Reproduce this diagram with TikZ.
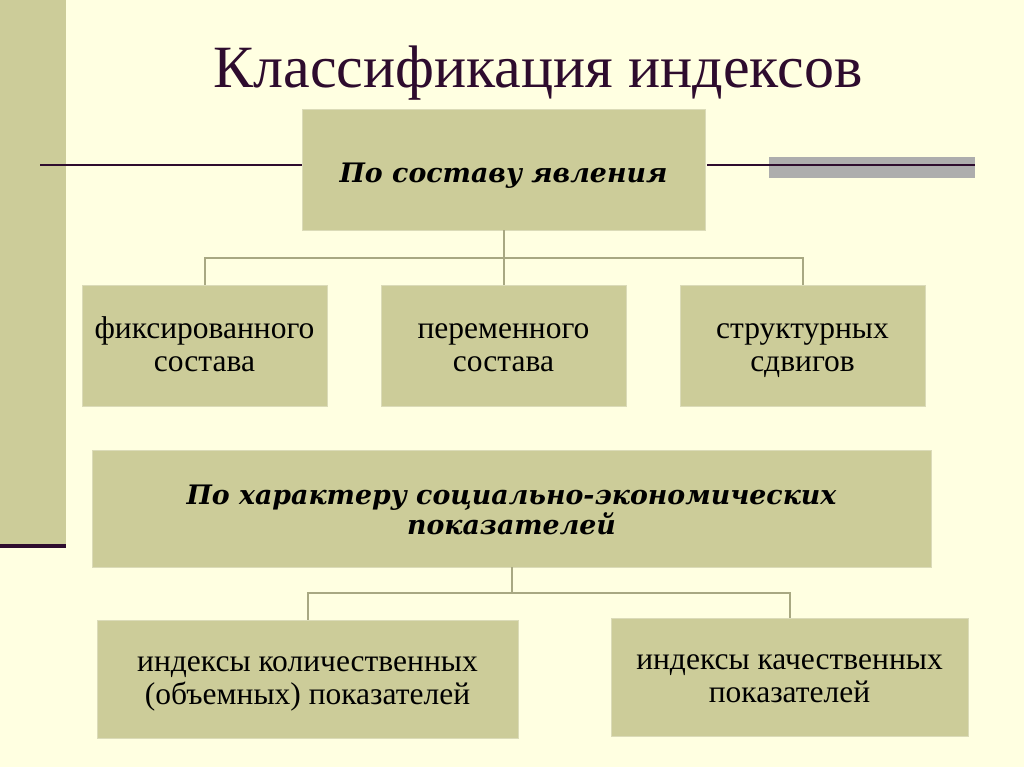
\documentclass[tikz,border=0pt]{standalone}
\usepackage{fontspec}
\setmainfont{Liberation Serif}
\newfontfamily\headfont{DejaVu Serif}
\usepackage{tikz}
\usetikzlibrary{calc}
\definecolor{creamwash}{HTML}{FFFFE1}
\definecolor{khaki}{HTML}{CCCC99}
\definecolor{khakiline}{HTML}{A8A882}
\definecolor{plum}{HTML}{2E0C2E}
\definecolor{greyband}{HTML}{ADADAD}

\begin{document}
\begin{tikzpicture}[
  x=1pt, y=-1pt,
  every node/.style={font=\fontsize{31.5}{33}\selectfont, align=center, text=black},
  box/.style={fill=khaki, draw=khaki!70!white, line width=0.6pt, inner sep=0pt,
    text height=59pt, text depth=8pt},
  headbox/.style={box, font=\headfont\fontsize{26.8}{30}\selectfont\bfseries\itshape},
  onerow/.style={text height=32pt, text depth=6pt},
  conn/.style={draw=khakiline, line width=2pt}
]
% page and decoration
\useasboundingbox (0,0) rectangle (1024,767);
\fill[creamwash] (0,0) rectangle (1024,767);
\fill[khaki] (0,0) rectangle (66,546);
\draw[plum, line width=4pt] (0,546) -- (66,546);
\fill[greyband] (769,157) rectangle (975,178);
\draw[plum, line width=2.5pt] (40,165) -- (302,165);
\draw[plum, line width=2.5pt] (707,165) -- (975,165);

\node[anchor=base, text=plum, font=\fontsize{60}{70}\selectfont] (title) at (538,88) {Классификация индексов};

% first group
\node[headbox, onerow, minimum width=403, minimum height=121] (comp) at (503.5,169.5) {По составу явления};
\node[box, minimum width=245, minimum height=121] (fix) at (204.5,345.5) {фиксированного\\состава};
\node[box, minimum width=245, minimum height=121] (var) at (503.5,345.5) {переменного\\состава};
\node[box, minimum width=245, minimum height=121] (str) at (802.5,345.5) {структурных\\сдвигов};
\draw[conn] (comp.south) -- (var.north);
\draw[conn] (fix.north) -- ++(0,-27) -| (str.north);

% second group
\node[headbox, minimum width=839, minimum height=117] (soc) at (511.5,508.5) {По характеру социально-экономических\\показателей};
\node[box, minimum width=421, minimum height=118] (qty) at (307.5,679) {индексы количественных\\(объемных) показателей};
\node[box, minimum width=357, minimum height=118] (qual) at (789.5,677) {индексы качественных\\показателей};
\coordinate (jbot) at (511.5,593);
\draw[conn] (soc.south) -- (jbot);
\draw[conn] (qty.north) |- (jbot) -| (qual.north);
\end{tikzpicture}
\end{document}
